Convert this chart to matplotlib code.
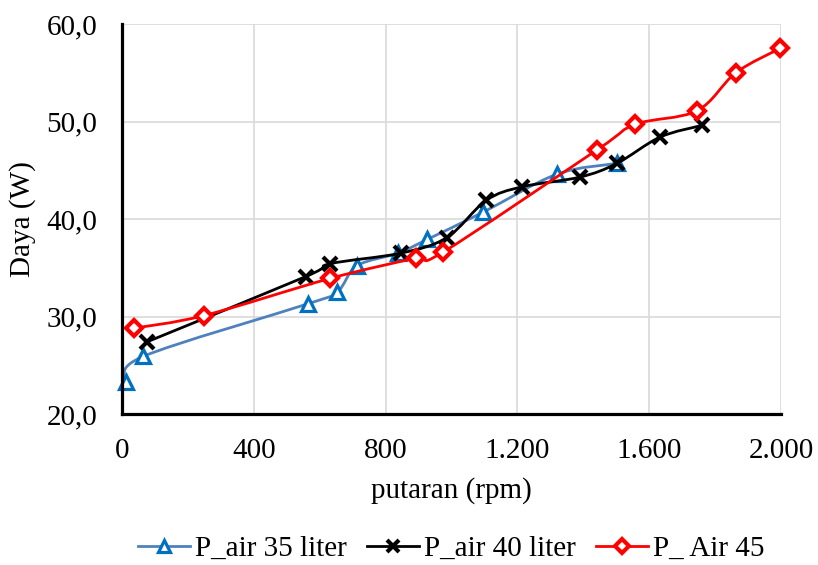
import numpy as np
import matplotlib
matplotlib.use("Agg")
import matplotlib.pyplot as plt
from matplotlib.path import Path
from matplotlib.patches import PathPatch
from matplotlib.lines import Line2D

# ---- data ----
x35 = [12, 64, 564, 653, 713, 838, 926, 1096, 1320, 1502]
y35 = [23.3, 25.9, 31.3, 32.5, 35.2, 36.5, 37.9, 40.7, 44.6, 45.7]

x40 = [76, 558, 631, 847, 986, 1105, 1214, 1390, 1502, 1633, 1760]
y40 = [27.4, 34.1, 35.4, 36.5, 38.1, 41.9, 43.3, 44.3, 45.7, 48.4, 49.6]

x45 = [36, 249, 631, 892, 974, 1442, 1557, 1745, 1863, 1997]
y45 = [28.8, 30.1, 33.9, 36.0, 36.6, 47.1, 49.7, 51.1, 55.0, 57.5]

series_labels = ["P_air 35 liter", "P_air 40 liter", "P_ Air 45"]
xticks = [0, 400, 800, 1200, 1600, 2000]
xtick_labels = ["0", "400", "800", "1.200", "1.600", "2.000"]
yticks = [20, 30, 40, 50, 60]
ytick_labels = ["20,0", "30,0", "40,0", "50,0", "60,0"]

plt.rcParams['font.family'] = ['Liberation Serif', 'DejaVu Serif']

W, H = 818, 565
fig = plt.figure(figsize=(W / 100, H / 100), dpi=100)
ax = fig.add_axes([122 / W, 1 - 414 / H, (781 - 122) / W, (414 - 24) / H])


def smooth_path(x, y):
    pts = np.column_stack([x, y]).astype(float)
    n = len(pts)
    verts = [pts[0]]
    codes = [Path.MOVETO]
    for i in range(n - 1):
        p0 = pts[i - 1] if i > 0 else pts[i]
        p1 = pts[i]
        p2 = pts[i + 1]
        p3 = pts[i + 2] if i + 2 < n else pts[i + 1]
        c1 = p1 + (p2 - p0) / 6.0
        c2 = p2 - (p3 - p1) / 6.0
        verts += [c1, c2, p2]
        codes += [Path.CURVE4] * 3
    return Path(verts, codes)


styles = [
    dict(x=x35, y=y35, line='#4F81BD', mk='^', mec='#0070C0', ms=9.5, mew=2.3, mfc='white'),
    dict(x=x40, y=y40, line='black', mk='x', mec='black', ms=10.5, mew=3.0, mfc='black'),
    dict(x=x45, y=y45, line='#FF0000', mk='D', mec='#FF0000', ms=8.0, mew=3.0, mfc='white'),
]

handles = []
for i, s in enumerate(styles):
    patch = PathPatch(smooth_path(s['x'], s['y']), facecolor='none', edgecolor=s['line'],
                      linewidth=2.0, zorder=3 + 2 * i, clip_on=False)
    ax.add_patch(patch)
    ax.plot(s['x'], s['y'], linestyle='none', marker=s['mk'], markersize=s['ms'],
            markeredgecolor=s['mec'], markerfacecolor=s['mfc'], markeredgewidth=s['mew'],
            zorder=4 + 2 * i, clip_on=False)
    handles.append(Line2D([], [], color=s['line'], linewidth=2.0, marker=s['mk'],
                          markersize=s['ms'] * 0.85, markeredgecolor=s['mec'],
                          markerfacecolor=s['mfc'], markeredgewidth=s['mew']))

ax.set_xlim(0, 2000)
ax.set_ylim(20, 60)
ax.set_xticks(xticks)
ax.set_xticklabels(xtick_labels)
ax.set_yticks(yticks)
ax.set_yticklabels(ytick_labels)
ax.tick_params(axis='both', length=0, labelsize=21)
ax.tick_params(axis='x', pad=17)
ax.tick_params(axis='y', pad=18)

ax.grid(True, color='#D9D9D9', linewidth=1.2, zorder=0)
ax.set_axisbelow(True)
for side in ['top', 'right']:
    ax.spines[side].set_visible(False)
for side in ['left', 'bottom']:
    ax.spines[side].set_color('black')
    ax.spines[side].set_linewidth(2.3)
    ax.spines[side].set_zorder(10)

ax.set_xlabel("putaran (rpm)", fontsize=21)
ax.xaxis.set_label_coords(0.5, -(491 - 414) / 390)
ax.xaxis.label.set_va('center')
ax.set_ylabel("Daya (W)", fontsize=21)
ax.yaxis.set_label_coords(-(122 - 23) / 659, 0.5)
ax.yaxis.label.set_va('center')

fig.legend(handles, series_labels, loc='center', bbox_to_anchor=(451 / W, 1 - 549 / H),
           ncol=3, frameon=False, fontsize=21, handlelength=1.8, handletextpad=0.15,
           columnspacing=0.7, borderaxespad=0, borderpad=0)

fig.savefig("out.png", dpi=100, facecolor='white')
